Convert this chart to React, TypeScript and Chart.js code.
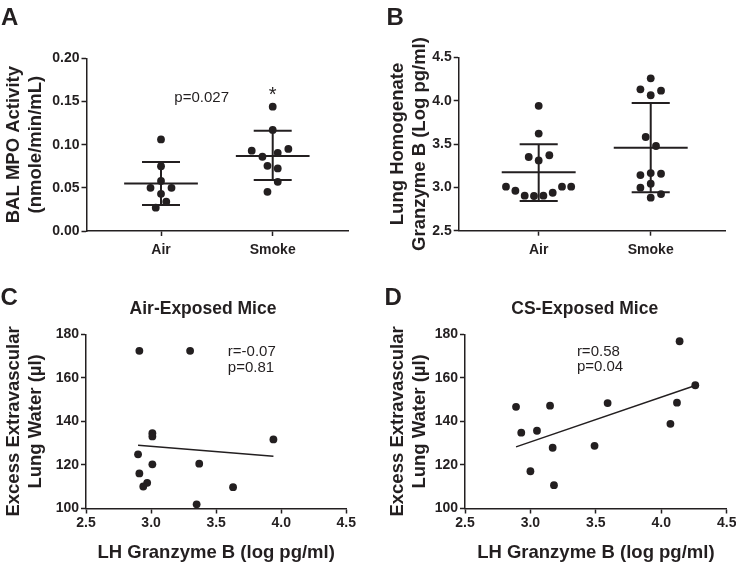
import React, { useEffect, useRef } from 'react';
import { Chart, registerables } from 'chart.js';

Chart.register(...registerables);

// ---------- data ----------
const groups = ['Air', 'Smoke'];

// Panel A: BAL MPO activity
const mpoAir = [0.106, 0.075, 0.058, 0.050, 0.050, 0.043, 0.034, 0.027];
const mpoAirJitter = [0, 0, 0, -0.094, 0.094, 0, 0.047, -0.047];
const mpoSmoke = [0.144, 0.117, 0.093, 0.095, 0.086, 0.0905, 0.0755, 0.0725, 0.057, 0.0454];
const mpoSmokeJitter = [0, 0, -0.188, 0.14, -0.092, 0.045, -0.047, 0.045, 0.045, -0.047];
const mpoMean = [0.055, 0.087];
const mpoSdHigh = [0.080, 0.116];
const mpoSdLow = [0.030, 0.059];

// Panel B: Lung homogenate granzyme B
const gzbAir = [3.94, 3.62, 3.35, 3.37, 3.31, 3.008, 2.961, 2.904, 2.90, 2.904, 2.938, 3.008, 3.008];
const gzbAirJitter = [0, 0, -0.089, 0.095, 0, -0.292, -0.208, -0.125, -0.042, 0.042, 0.125, 0.208, 0.29];
const gzbSmoke = [4.258, 4.131, 4.062, 4.115, 3.581, 3.477, 3.142, 3.165, 3.157, 2.996, 3.042, 2.881, 2.923];
const gzbSmokeJitter = [0, -0.092, 0, 0.092, -0.045, 0.047, -0.092, 0, 0.092, -0.092, 0, 0, 0.092];
const gzbMean = [3.173, 3.457];
const gzbSdHigh = [3.497, 3.973];
const gzbSdLow = [2.843, 2.943];

// Panel C: Air-exposed mice
const airGzb = [2.91, 3.30, 3.94, 3.01, 3.01, 2.90, 3.01, 3.37, 2.91, 2.97, 2.94, 3.63, 3.35];
const airLungWater = [172.4, 172.4, 131.7, 134.6, 133.1, 124.9, 120.3, 120.6, 116.1, 111.8, 110.1, 109.8, 101.9];
const airFitX = [2.90, 3.94];
const airFitY = [129.0, 124.0];

// Panel D: CS-exposed mice
const csGzb = [2.89, 2.93, 3.00, 3.05, 3.15, 3.17, 3.18, 3.49, 3.59, 4.07, 4.12, 4.14, 4.26];
const csLungWater = [146.7, 134.8, 117.1, 135.7, 147.2, 127.9, 110.7, 128.8, 148.4, 138.9, 148.6, 176.8, 156.6];
const csFitX = [2.89, 4.26];
const csFitY = [128.3, 156.5];

// ---------- styles ----------
const INK = '#231f20';
const FONT = "'Liberation Sans', Arial, Helvetica, sans-serif";
const MEAN_HALF = 0.33;
const SD_HALF = 0.17;
const DOT_R = 3.9;

type Note = { text: string; x: number; y: number; data?: boolean; font: string; align?: CanvasTextAlign };

function notesPlugin(notes: Note[]) {
  return {
    id: 'notes',
    afterDraw(chart: any) {
      const ctx = chart.ctx as CanvasRenderingContext2D;
      ctx.save();
      ctx.fillStyle = INK;
      ctx.textBaseline = 'alphabetic';
      for (const n of notes) {
        const px = n.data ? chart.scales.x.getPixelForValue(n.x) : n.x;
        const py = n.data ? chart.scales.y.getPixelForValue(n.y) : n.y;
        ctx.font = n.font;
        ctx.textAlign = n.align ?? 'left';
        ctx.fillText(n.text, px, py);
      }
      ctx.restore();
    },
  };
}

function segment(x1: number, y1: number, x2: number, y2: number, width = 2) {
  return {
    data: [{ x: x1, y: y1 }, { x: x2, y: y2 }],
    showLine: true,
    pointRadius: 0,
    borderColor: INK,
    borderWidth: width,
    clip: false,
  };
}

function dots(xs: number[], ys: number[]) {
  return {
    data: xs.map((x, i) => ({ x, y: ys[i] })),
    pointRadius: DOT_R,
    pointHoverRadius: DOT_R,
    backgroundColor: INK,
    borderWidth: 0,
    clip: false,
  };
}

const tickFont = { size: 14, weight: 'bold' as const, family: FONT };

function yAxis(min: number, max: number, step: number, decimals: number, title: string[], titlePad: number, width: number) {
  return {
    type: 'linear',
    min,
    max,
    ticks: {
      stepSize: step,
      color: INK,
      font: tickFont,
      padding: 2,
      callback: (v: any) => Number(v).toFixed(decimals),
    },
    grid: { drawOnChartArea: false, drawTicks: true, tickLength: 5, tickWidth: 1.5, tickColor: INK },
    border: { display: true, color: INK, width: 1.5 },
    title: {
      display: true,
      text: title,
      color: INK,
      font: { size: 18.5, weight: 'bold', family: FONT, lineHeight: 1.17 },
      padding: { top: titlePad, bottom: 0 },
    },
    afterFit: (s: any) => {
      s.width = width;
      s.paddingTop = 0;
      s.paddingBottom = 0;
    },
  };
}

function groupXAxis(min: number, max: number, height: number) {
  return {
    type: 'linear',
    min,
    max,
    afterBuildTicks: (s: any) => {
      s.ticks = groups.map((_, i) => ({ value: i + 1 }));
    },
    ticks: {
      color: INK,
      font: tickFont,
      padding: 6,
      callback: (v: any) => groups[Math.round(Number(v)) - 1] ?? '',
    },
    grid: { drawOnChartArea: false, drawTicks: true, tickLength: 5, tickWidth: 1.5, tickColor: INK },
    border: { display: true, color: INK, width: 1.5 },
    afterFit: (s: any) => {
      s.height = height;
      s.paddingLeft = 0;
      s.paddingRight = 0;
    },
  };
}

function valueXAxis(height: number) {
  return {
    type: 'linear',
    min: 2.5,
    max: 4.5,
    ticks: {
      stepSize: 0.5,
      color: INK,
      font: tickFont,
      padding: 1,
      callback: (v: any) => Number(v).toFixed(1),
    },
    grid: { drawOnChartArea: false, drawTicks: true, tickLength: 5, tickWidth: 1.5, tickColor: INK },
    border: { display: true, color: INK, width: 1.5 },
    title: {
      display: true,
      text: 'LH Granzyme B (log pg/ml)',
      color: INK,
      font: { size: 18.5, weight: 'bold', family: FONT, lineHeight: 1 },
      padding: { top: 0, bottom: 1.5 },
    },
    afterFit: (s: any) => {
      s.height = height;
      s.paddingLeft = 0;
      s.paddingRight = 0;
    },
  };
}

function groupDatasets(values: number[][], jitter: number[][], mean: number[], hi: number[], lo: number[]) {
  const ds: any[] = [];
  values.forEach((vals, g) => {
    const cx = g + 1;
    ds.push(dots(vals.map((_, i) => cx + jitter[g][i]), vals));
    ds.push(segment(cx - MEAN_HALF, mean[g], cx + MEAN_HALF, mean[g]));
    ds.push(segment(cx - SD_HALF, hi[g], cx + SD_HALF, hi[g]));
    ds.push(segment(cx - SD_HALF, lo[g], cx + SD_HALF, lo[g]));
    ds.push(segment(cx, lo[g], cx, hi[g]));
  });
  return ds;
}

function baseOptions(padding: any, scales: any) {
  return {
    animation: false,
    responsive: false,
    devicePixelRatio: 1,
    events: [],
    layout: { padding },
    plugins: { legend: { display: false }, tooltip: { enabled: false }, title: { display: false } },
    scales,
  };
}

function configA(): any {
  return {
    type: 'scatter',
    data: {
      datasets: groupDatasets([mpoAir, mpoSmoke], [mpoAirJitter, mpoSmokeJitter], mpoMean, mpoSdHigh, mpoSdLow),
    },
    options: baseOptions({ left: 0, right: 20, top: 58.3, bottom: 0 }, {
      x: groupXAxis(0.333, 2.674, 51),
      y: yAxis(0, 0.2, 0.05, 2, ['BAL MPO Activity', '(nmole/min/mL)'], 3, 86.5),
    }),
    plugins: [notesPlugin([
      { text: 'A', x: 1, y: 25, font: `bold 24px ${FONT}` },
      { text: 'p=0.027', x: 1.364, y: 0.1491, data: true, font: `15px ${FONT}`, align: 'center' },
      { text: '*', x: 2, y: 0.150, data: true, font: `20px ${FONT}`, align: 'center' },
    ])],
  };
}

function configB(): any {
  return {
    type: 'scatter',
    data: {
      datasets: groupDatasets([gzbAir, gzbSmoke], [gzbAirJitter, gzbSmokeJitter], gzbMean, gzbSdHigh, gzbSdLow),
    },
    options: baseOptions({ left: 0, right: 11, top: 57.3, bottom: 0 }, {
      x: groupXAxis(0.286, 2.663, 51.3),
      y: yAxis(2.5, 4.5, 0.5, 1, ['Lung Homogenate', 'Granzyme B (Log pg/ml)'], 19.5, 90.7),
    }),
    plugins: [notesPlugin([
      { text: 'B', x: 18.5, y: 25, font: `bold 24px ${FONT}` },
    ])],
  };
}

function configC(): any {
  return {
    type: 'scatter',
    data: {
      datasets: [
        dots(airGzb, airLungWater),
        segment(airFitX[0], airFitY[0], airFitX[1], airFitY[1], 1.5),
      ],
    },
    options: baseOptions({ left: 0, right: 21.7, top: 52.3, bottom: 0 }, {
      x: valueXAxis(55.5),
      y: yAxis(100, 180, 20, 0, ['Excess Extravascular', 'Lung Water (\u00b5l)'], 3, 86),
    }),
    plugins: [notesPlugin([
      { text: 'C', x: 0.5, y: 22.7, font: `bold 24px ${FONT}` },
      { text: 'Air-Exposed Mice', x: 203, y: 31.7, font: `bold 17.5px ${FONT}`, align: 'center' },
      { text: 'r=-0.07', x: 3.59, y: 170.1, data: true, font: `15px ${FONT}` },
      { text: 'p=0.81', x: 3.59, y: 162.8, data: true, font: `15px ${FONT}` },
    ])],
  };
}

function configD(): any {
  return {
    type: 'scatter',
    data: {
      datasets: [
        dots(csGzb, csLungWater),
        segment(csFitX[0], csFitY[0], csFitX[1], csFitY[1], 1.5),
      ],
    },
    options: baseOptions({ left: 0, right: 9.3, top: 52.3, bottom: 0 }, {
      x: valueXAxis(55.5),
      y: yAxis(100, 180, 20, 0, ['Excess Extravascular', 'Lung Water (\u00b5l)'], 19, 97),
    }),
    plugins: [notesPlugin([
      { text: 'D', x: 16.5, y: 22.7, font: `bold 24px ${FONT}` },
      { text: 'CS-Exposed Mice', x: 216.7, y: 31.7, font: `bold 17.5px ${FONT}`, align: 'center' },
      { text: 'r=0.58', x: 3.355, y: 170.0, data: true, font: `15px ${FONT}` },
      { text: 'p=0.04', x: 3.355, y: 163.1, data: true, font: `15px ${FONT}` },
    ])],
  };
}

const PANELS = [
  { left: 0, top: 0, make: configA },
  { left: 368, top: 0, make: configB },
  { left: 0, top: 282, make: configC },
  { left: 368, top: 282, make: configD },
];

export default function App() {
  const canvases = useRef<(HTMLCanvasElement | null)[]>([]);

  useEffect(() => {
    const charts = PANELS.map((p, i) => new Chart(canvases.current[i] as HTMLCanvasElement, p.make()));
    return () => charts.forEach((c) => c.destroy());
  }, []);

  return (
    <div style={{ position: 'absolute', left: 0, top: 0, width: 736, height: 564, background: '#ffffff' }}>
      {PANELS.map((p, i) => (
        <canvas
          key={i}
          ref={(el) => { canvases.current[i] = el; }}
          width={368}
          height={282}
          style={{ position: 'absolute', left: p.left, top: p.top, width: 368, height: 282 }}
        />
      ))}
    </div>
  );
}
